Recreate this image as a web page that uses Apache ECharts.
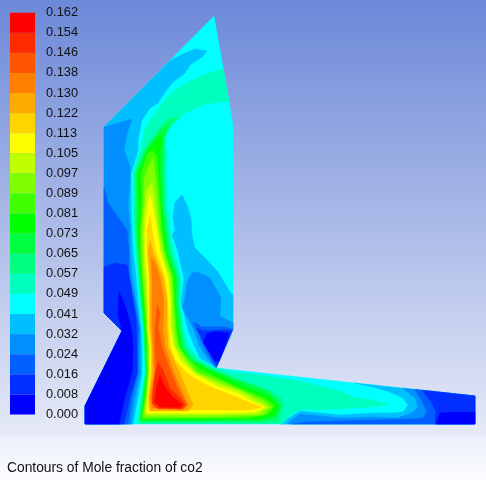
<!DOCTYPE html>
<html>
<head>
<meta charset="utf-8">
<style>
html, body { margin: 0; padding: 0; }
#chart { width: 486px; height: 480px; }
</style>
<script src="https://cdn.jsdelivr.net/npm/echarts@6/dist/echarts.min.js"></script>
</head>
<body>
<div id="chart"></div>
<script>
// legend, top to bottom
var tickLabels = ['0.162','0.154','0.146','0.138','0.130','0.122','0.113','0.105','0.097','0.089','0.081',
  '0.073','0.065','0.057','0.049','0.041','0.032','0.024','0.016','0.008','0.000']
// band colours, index 0 = lowest band
var bandColors = ['#0000ff','#002fff','#005fff','#008fff','#00bfff','#00ffff','#00ffbf','#00ff80','#00ff40','#00ff00',
  '#40ff00','#80ff00','#bfff00','#ffff00','#ffd500','#ffaa00','#ff8000','#ff5500','#ff2b00','#ff0000']

// contour outlines, flat x,y lists in picture units
var domain = [214,16,233,125,233,329,216,368,475,396,475,424,85,424,85,406,122,331,104,313,104,127]

var leftI4 = [170,61,185,53,195,49,207,51,202,57,190,65,185,73,173,82,165,92,158,103,150,108,142,120,138,140,138,150,131,173,131,203,132,230,133,252,136,278,138,302,141,328,142,347,142,373,138,397,133,424,85,424,85,406,122,331,104,313,104,127]
var leftI3 = [104,127,132,119,128,130,124,150,130,167,130,183,128,203,130,227,130,252,132,278,136,302,140,328,140,347,140,373,135,397,131,424,85,424,85,406,122,331,104,313]
var leftI2 = [104,188,108,203,118,217,127,230,129,252,129,278,134.5,302,138.5,328,138,347,138,373,132,397,128,424,85,424,85,406,122,331,104,313]
var leftI1 = [104,267,115,263,127,265,131,285,133,302,136,318,137,347,137,373,130,397,124,424,85,424,85,406,122,331,104,313]
var leftI0 = [122,331,118,315,119,292,123,300,128,315,132,332,133,347,132,373,125,397,119,424,85,424,85,406]

var rightI4 = [182,195,187,205,191,218,192,235,195,248,205,258,218,272,230,292,233,295,233,329,216,368,200,358,194,345,188,330,186,322,181,302,184,278,178,252,174,240,172,235,175,230,173,218,175,202]
var rightI3 = [192,273,198,272,210,278,221,298,220,316,233,323,233,329,216,368,207,358,199,345,194,330,188,318,182,307,185,298,187,282]
var rightI2 = [193,322,202,327,225,327,233,329,216,368,210,358,203,345,198,332]
var rightI1 = [196,328,204,331,228,330,232,331,217,366,212,358,205,345,200,335]
var rightI0 = [207,334,215,331.5,229,333,224,349,219,361,215,361,210,353,203,342]

var endI4 = [355,383.2,373,387,390,392,403,398,408,405,403,412,390,413,373,413,340,415,300,411,283,422,280,424,475,424,475,396]
var endI3 = [403,388.2,415,398,418,407,412,413,397,418,373,417,340,418,300,414,287,424,475,424,475,396]
var endI2 = [415,389.5,423,403,427,412,423,418,412,419,373,420,340,421,307,422,293,424,475,424,475,396]
var endI1 = [422,390.3,432,403,436,412,435,424,475,424,475,396]
var endI0 = [440,413,455,412,475,412.5,475,424,436,424]

var plumeI6 = [223,69,208,73,192,80,175,90,165,100,152,117,145,128,142,143,139,153,133,173,133,203,134,230,136,252,138,278,140,302,143,328,144,347,145,373,141,397,137,423.5,283,423.5,290,415,300,410,340,409,353,408,373,407,390,405,373,400,353,397,340,391,300,381,267,376,233,372,216,368,199,359,189,347,183,328,180,302,181,278,174,252,170,230,167,203,166,173,167,153,162,140,172,125,185,113,205,104,229,101]
var plumeI7 = [180,117,170,118,160,127,152,138,144,150,135,173,135,203,135,230,137,252,139,278,141,302,143.5,328,144.5,347,145.5,373,142,397,139,423,278,423,283,407,282,398,263,388,233,377,215,369.5,196,360,186,347,182,328,179,302,179,278,171,252,168,230,165,203,164,173,165,150,165,138,170,125]
var plumeI8 = [172,122,162,129,155,138,146,150,136,173,137,203,137,230,138,252,140,278,142,302,144,328,145,347,146,373,143,397,140,421.5,262,421,276,418,281,406,270,392,240,381,213,371,192,360,183,347,180,328,177,302,177,278,169,252,166,230,163,203,163,173,163,150,164,138,168,128]
var plumeI9 = [160,135,154,142,148,150,138,173,138,203,138,230,139,252,141,278,143,302,145,328,146,347,147,373,144,397,141,420,260,419,275,415,278,405,270,397,240,385,220,375,205,368,190,360,181,347,178,328,175.5,302,175,278,167,252,164,230,161,203,160,173,160,150,162,141]
var plumeI10 = [152,150,147,155,141,173,142,203,140,230,140,252,142,278,144,302,146,328,147,347,147.5,373,145,397,142,419,250,418,268,414,275,406,265,398,240,388,220,379,200,369,188,358,179,347,176.5,328,174.5,302,173.5,278,165.5,252,162,230,160,203,158,173,156,155]
var plumeI11 = [153,158,147,170,144,180,143,203,141.5,230,142,252,143,278,145,302,147,328,148,347,148,373,146,397,143,417,220,417,263,415,272,407,263,400,240,390,220,381,197,372,187,360,178,345,175,328,173,302,172,278,164,252,160,230,158,203,155,173]
var plumeI12 = [152,183,147,190,145,203,143,230,143.5,252,145,278,146.5,302,147.5,328,149,347,149,373,147,397,145,415,220,415,258,414,268,407,258,401,240,391,220,384,197,374,185,361,175.5,347,172.5,328,171.5,302,170,278,162,252,158,230,155,203]
var plumeI13 = [150,195,148,203,145,230,145,252,147,278,148,302,148,328,150,347,150,373,148,397,146,413,220,413,255,412,265,407,253,402,237,393,217,386,193,373,180,360,173,345,170,328,170,302,168,278,160,252,157,230,152,203]
var plumeI14 = [150,215,147,230,147,252,149,278,149,302,149,328,151,347,151,373,148.5,397,148,408,150,410,250,410,262,407,250,403,237,397,213,388,197,380,187,373,175,360,170.5,347,168.5,328,168,302,165,278,156,252,152,230]
var plumeI15 = [150,240,148,252,150,278,150,302,150,328,152,347,152,373,149,397,150,411,188,411,193,405,188,393,183,380,177,367,168,347,167,328,167,302,163,278,153,252]
var plumeI16 = [151,258,152,278,152,302,152,328,153,347,154,373,150,397,152,408,183,410,188,405,180,387,173,370,165,347,163,328,164,302,160,278,155,262]
var plumeI17 = [157,305,155,328,155,347,156,373,152,397,154,407,182,409,187,405,177,387,170,370,162,347,158,328,160,312]
var plumeI18 = [158,362,155,373,153,390,152,403,158,408.5,182,408.5,185,405,180,398,170,388,163,370]
var plumeI19 = [160,375,156,390,155,402,160,407,180,407.5,182,405,173,397,165,387]

var caption = 'Contours of Mole fraction of co2'

// paint order matters, later regions sit on top
var regions = [
  [5, domain],
  [4, leftI4], [3, leftI3], [2, leftI2], [1, leftI1], [0, leftI0],
  [4, rightI4], [3, rightI3], [2, rightI2], [1, rightI1], [0, rightI0],
  [4, endI4], [3, endI3], [2, endI2], [1, endI1], [0, endI0],
  [6, plumeI6], [7, plumeI7], [8, plumeI8], [9, plumeI9], [10, plumeI10], [11, plumeI11], [12, plumeI12],
  [13, plumeI13], [14, plumeI14], [15, plumeI15], [16, plumeI16], [17, plumeI17], [18, plumeI18], [19, plumeI19]
]

function renderRegion(params, api) {
  var region = regions[params.dataIndex]
  var flat = region[1]
  var points = []
  for (var i = 0; i < flat.length; i += 2) {
    points.push(api.coord([flat[i], flat[i + 1]]))
  }
  return {
    type: 'polygon',
    shape: { points: points },
    style: { fill: bandColors[region[0]], stroke: bandColors[region[0]], lineWidth: 0.5 }
  }
}

function renderBand(params, api) {
  // band between two neighbouring tick labels
  var top = api.coord([0, tickLabels[params.dataIndex]])
  var bottom = api.coord([0, tickLabels[params.dataIndex + 1]])
  var size = api.size([1, 1])
  return {
    type: 'rect',
    shape: { x: top[0], y: top[1], width: size[0], height: bottom[1] - top[1] },
    style: { fill: bandColors[19 - params.dataIndex] }
  }
}

var myChart = echarts.init(document.getElementById('chart'))
myChart.setOption({
  animation: false,
  backgroundColor: new echarts.graphic.LinearGradient(0, 0, 0, 1, [
    { offset: 0, color: '#6c88d8' },
    { offset: 0.908, color: '#e6eaf7' },
    { offset: 0.912, color: '#eef1fb' },
    { offset: 1, color: '#fbfcff' }
  ]),
  grid: [
    { left: 0, top: 0, right: 0, bottom: 0 },
    { left: 10, top: 12.7, width: 25, height: 401.8 }
  ],
  xAxis: [
    { type: 'value', gridIndex: 0, min: 0, max: 486, show: false },
    { type: 'value', gridIndex: 1, min: 0, max: 1, show: false }
  ],
  yAxis: [
    { type: 'value', gridIndex: 0, min: 0, max: 480, inverse: true, show: false },
    {
      type: 'category',
      gridIndex: 1,
      data: tickLabels,
      inverse: true,
      position: 'right',
      boundaryGap: false,
      axisLine: { show: false },
      axisTick: { show: false },
      splitLine: { show: false },
      axisLabel: {
        interval: 0,
        margin: 11,
        align: 'left',
        color: '#111',
        fontFamily: 'Liberation Sans',
        fontSize: 12.8
      }
    }
  ],
  title: {
    text: caption,
    left: 7,
    top: 461,
    padding: 0,
    textStyle: { color: '#111', fontFamily: 'Liberation Sans', fontSize: 13.8, fontWeight: 'normal' }
  },
  series: [
    {
      type: 'custom',
      xAxisIndex: 0,
      yAxisIndex: 0,
      clip: false,
      silent: true,
      coordinateSystem: 'cartesian2d',
      renderItem: renderRegion,
      data: regions.map(function (r, i) { return [i] }),
      encode: { x: 0 }
    },
    {
      type: 'custom',
      xAxisIndex: 1,
      yAxisIndex: 1,
      silent: true,
      renderItem: renderBand,
      data: bandColors.map(function (c, i) { return [0, i] }),
      encode: { x: 0, y: 1 }
    }
  ]
})
</script>
</body>
</html>
